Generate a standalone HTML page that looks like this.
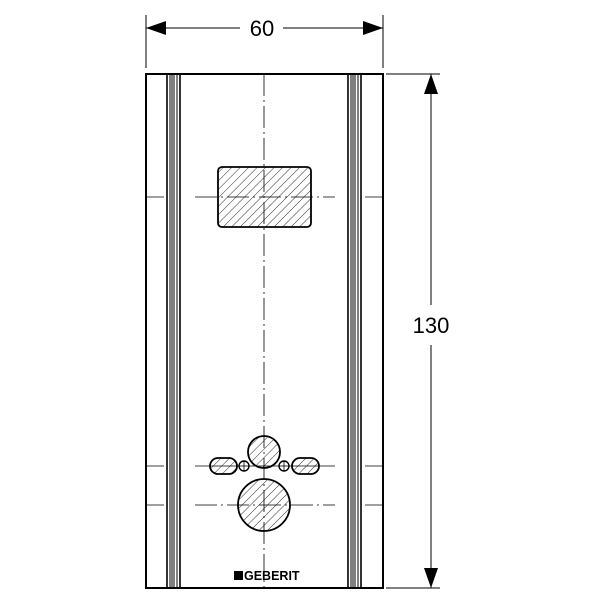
<!DOCTYPE html>
<html><head><style>body{margin:0;background:#fff}</style></head><body>
<svg width="600" height="600" viewBox="0 0 600 600" xmlns="http://www.w3.org/2000/svg">
<defs>
<pattern id="h" patternUnits="userSpaceOnUse" width="6" height="6" patternTransform="rotate(45)">
<line x1="0" y1="0" x2="0" y2="6" stroke="#000" stroke-width="0.8"/>
</pattern>
</defs>
<g stroke="#000" fill="none">
<line x1="146" y1="15" x2="146" y2="68" stroke-width="1"/>
<line x1="383" y1="15" x2="383" y2="68" stroke-width="1"/>
<line x1="146" y1="28" x2="240" y2="28"/>
<line x1="283" y1="28" x2="383" y2="28"/>
<line x1="386" y1="74" x2="440" y2="74"/>
<line x1="386" y1="588" x2="440" y2="588"/>
<line x1="431" y1="74" x2="431" y2="305"/>
<line x1="431" y1="345" x2="431" y2="588"/>
<rect x="146" y="74" width="237" height="514" stroke-width="2"/>
<g stroke-width="1">
<line x1="167" y1="74" x2="167" y2="588" stroke-width="1.6"/>
<line x1="170" y1="74" x2="170" y2="588"/>
<line x1="172" y1="74" x2="172" y2="588"/>
<line x1="174" y1="74" x2="174" y2="588"/>
<line x1="177" y1="74" x2="177" y2="588"/>
<line x1="180" y1="74" x2="180" y2="588" stroke-width="1.6"/>
<line x1="348" y1="74" x2="348" y2="588" stroke-width="1.6"/>
<line x1="351" y1="74" x2="351" y2="588"/>
<line x1="353" y1="74" x2="353" y2="588"/>
<line x1="355" y1="74" x2="355" y2="588"/>
<line x1="358" y1="74" x2="358" y2="588"/>
<line x1="361" y1="74" x2="361" y2="588" stroke-width="1.6"/>
</g>
<line x1="264" y1="74" x2="264" y2="588" stroke-width="0.8" stroke-dasharray="22,4,2,4"/>
<g stroke-width="0.8">
<line x1="146" y1="197" x2="164" y2="197"/><line x1="195" y1="197" x2="335" y2="197" stroke-dasharray="22,4,2,4"/><line x1="365" y1="197" x2="383" y2="197"/>
<line x1="146" y1="466" x2="164" y2="466"/><line x1="195" y1="466" x2="335" y2="466"/><line x1="365" y1="466" x2="383" y2="466"/>
<line x1="146" y1="505" x2="164" y2="505"/><line x1="195" y1="505" x2="335" y2="505" stroke-dasharray="22,4,2,4"/><line x1="365" y1="505" x2="383" y2="505"/>
</g>
<rect x="218" y="167" width="93" height="60" rx="4" fill="url(#h)" stroke-width="1.8"/>
<circle cx="264" cy="452" r="16" fill="url(#h)" stroke-width="1.8"/>
<circle cx="264" cy="505" r="26" fill="url(#h)" stroke-width="1.8"/>
<rect x="210" y="458" width="27" height="16" rx="8" fill="url(#h)" stroke-width="1.8"/>
<rect x="292" y="458" width="27" height="16" rx="8" fill="url(#h)" stroke-width="1.8"/>
<circle cx="244" cy="466" r="5" fill="#fff" stroke-width="1.4"/>
<circle cx="284" cy="466" r="5" fill="#fff" stroke-width="1.4"/>
<line x1="239" y1="466" x2="249" y2="466" stroke-width="0.8"/><line x1="244" y1="461" x2="244" y2="471" stroke-width="0.8"/>
<line x1="279" y1="466" x2="289" y2="466" stroke-width="0.8"/><line x1="284" y1="461" x2="284" y2="471" stroke-width="0.8"/>
</g>
<polygon points="146,28 166,21 166,35" fill="#000"/>
<polygon points="383,28 363,21 363,35" fill="#000"/>
<polygon points="431,74 424,94 438,94" fill="#000"/>
<polygon points="431,588 424,568 438,568" fill="#000"/>
<rect x="234" y="571" width="9" height="9" fill="#000"/>
<text x="244" y="580" font-family="Liberation Sans, sans-serif" font-weight="bold" font-size="12.5" fill="#000">GEBERIT</text>
<text x="262" y="36" text-anchor="middle" font-family="Liberation Sans, sans-serif" font-size="22" fill="#000">60</text>
<text x="431" y="333" text-anchor="middle" font-family="Liberation Sans, sans-serif" font-size="22" fill="#000">130</text>
</svg>
</body></html>
